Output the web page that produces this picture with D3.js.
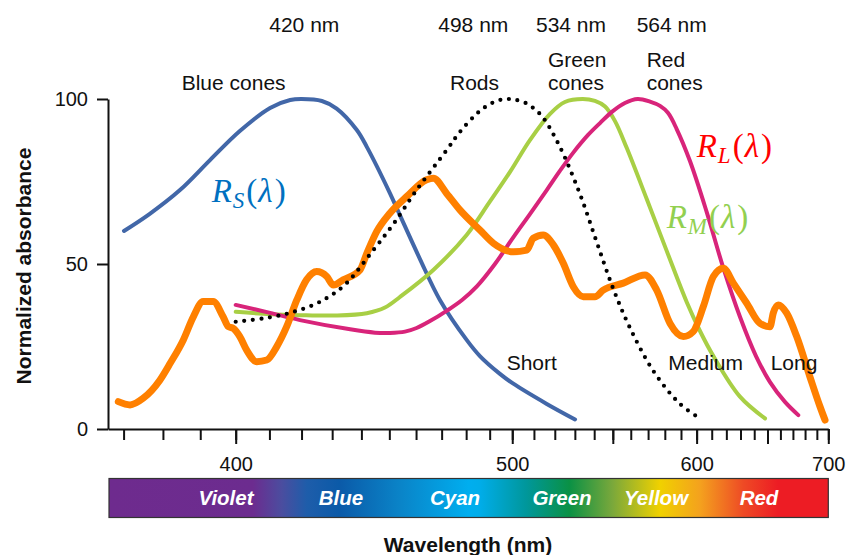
<!DOCTYPE html>
<html>
<head>
<meta charset="utf-8">
<script src="https://cdn.jsdelivr.net/npm/d3@7/dist/d3.min.js"></script>
<style>
  html, body { margin: 0; padding: 0; background: #fff; }
  svg { display: block; }
</style>
</head>
<body>
<svg id="chart" width="848" height="555"></svg>
<script>
// ---- data: wavelength (nm) and normalized absorbance (%) ----
const sConeWl  = [370.1, 376.6, 384.5, 392.7, 401.2, 410.2, 416.4, 420, 426.6, 431.5, 438.4, 441.9, 450.2, 453.9, 461.5, 469.3, 480.2, 485.8, 494.5, 500.3, 516.1, 530.1];
const sConeAbs = [60, 65.2, 72.4, 81.5, 90.3, 97.3, 99.7, 100, 99.4, 97.1, 90.6, 85.5, 71.5, 64.8, 51.5, 39.1, 27.0, 22.1, 16.7, 13.8, 7.6, 2.9];

const rodWl  = [400, 408.1, 416.4, 423.8, 429.3, 434.9, 444.2, 451.5, 460.2, 472.0, 477.4, 484.4, 489.7, 494.5, 498, 501.3, 505.8, 510.0, 514.3, 522.5, 532.6, 541.3, 550.3, 559.6, 573.1, 589.4, 603.3];
const rodAbs = [32.5, 33.5, 35.2, 37.6, 40.3, 44.2, 54.2, 62.1, 72.4, 84.5, 90.0, 95.5, 98.3, 99.7, 100, 99.8, 98.9, 97.1, 94.4, 85.5, 71.2, 56.7, 42.4, 30.6, 17.6, 7.6, 2.9];

const mConeWl  = [400, 410.2, 419.5, 430.9, 441.9, 448.4, 453.9, 466.7, 480.2, 489.7, 499.0, 508.2, 517.7, 525.0, 534, 540.4, 545.8, 551.2, 557.7, 569.2, 581.2, 593.6, 602.2, 611.1, 629.6, 648.1];
const mConeAbs = [35.5, 34.8, 34.5, 34.4, 35.1, 36.8, 40.0, 48.2, 58.8, 68.5, 77.9, 87.6, 95.5, 99.1, 100, 99.4, 97.7, 93.3, 85.2, 69.7, 53.9, 38.5, 29.7, 22.1, 9.8, 3.2];

const lConeWl  = [400, 410.2, 419.5, 436.1, 444.8, 450.2, 455.8, 460.2, 465.4, 472.0, 478.3, 484.6, 492.3, 500.3, 508.2, 516.1, 522.5, 529.0, 536.8, 543.1, 549.5, 556.7, 564, 571.1, 577.1, 581.9, 587.3, 595.7, 606.6, 617.9, 629.6, 641.3, 651.9, 663.6, 674.4];
const lConeAbs = [37.6, 35.2, 33.0, 30.2, 29.2, 29.1, 29.5, 30.6, 32.7, 35.8, 39.1, 43.3, 50.0, 57.9, 65.2, 72.4, 78.2, 83.6, 89.1, 92.7, 96.1, 98.8, 100, 99.2, 97.9, 95.8, 90.9, 81.2, 65.8, 48.8, 34.0, 22.1, 14.2, 8.2, 4.2];

const sourceWl  = [368.7, 371.6, 374.9, 379.2, 381.9, 385.4, 388.1, 390.8, 393.6, 396.4, 397.9, 399.3, 401.2, 403.2, 406.2, 409.2, 412.2, 415.3, 418.5, 421.6, 424.9, 428.2, 430.4, 433.7, 439.5, 441.9, 445.4, 450.2, 456.4, 464.1, 466.7, 472.0, 477.4, 485.8, 491.6, 500.5, 506.6, 509.7, 514.4, 519.3, 524.2, 529.2, 534.3, 540.4, 544.8, 555.8, 568.2, 575.1, 583.2, 591.5, 597.8, 604.4, 611.1, 617.9, 624.9, 634.5, 644.3, 651.9, 654.4, 658.3, 665.0, 673.1, 684.1, 692.7, 697.1];
const sourceVal = [8.3, 7.3, 9.3, 14.8, 19.9, 27.0, 34.0, 38.6, 38.6, 34.0, 31.0, 30.5, 28.0, 23.9, 20.4, 20.9, 24.9, 31.0, 39.1, 45.2, 47.7, 46.2, 43.6, 45.2, 48.2, 53.2, 59.8, 65.4, 70.4, 75.5, 76.0, 71.4, 66.4, 60.3, 56.3, 53.7, 54.2, 57.8, 58.8, 55.8, 50.2, 43.1, 40.1, 40.1, 42.1, 44.2, 46.7, 42.1, 32.0, 28.0, 29.5, 37.1, 46.2, 48.7, 44.2, 38.1, 32.0, 31.0, 35.1, 37.6, 35.1, 28.0, 15.8, 6.8, 2.7];

const peakLabels   = ["420 nm", "498 nm", "534 nm", "564 nm"];
const yTicks       = [0, 50, 100];
const xMinorTicks  = d3.range(370, 701, 10);
const xMajorTicks  = [400, 500, 550, 600, 650, 700];
const xLabelTicks  = [400, 500, 600, 700];
const bandNames    = ["Violet", "Blue", "Cyan", "Green", "Yellow", "Red"];

// ---- layout ----
const svg = d3.select("#chart");
const FONT = "'Liberation Sans', Arial, Helvetica, sans-serif";
const SERIF = "'Liberation Serif', 'Times New Roman', serif";

const plotLeft = 108, plotRight = 828.3, plotTop = 99, plotBottom = 429;

// wavenumber-linear wavelength axis (equal steps in 1/λ)
const inv = d3.scaleLinear().domain([1 / 400, 1 / 700]).range([235.7, plotRight]);
const x = l => inv(1 / l);
x.copy = () => x;
x.range = () => [plotLeft, plotRight];
x.domain = () => [366, 700];

const y = d3.scaleLinear().domain([0, 100]).range([plotBottom, plotTop]);

// ---- axes ----
const yAxis = svg.append("g")
  .attr("transform", `translate(${plotLeft},0)`)
  .call(d3.axisLeft(y).tickValues(yTicks).tickSize(11).tickSizeOuter(0).tickPadding(9));
yAxis.attr("font-family", FONT).attr("font-size", 20);
yAxis.selectAll("path, line").attr("stroke", "#111").attr("stroke-width", 2);
yAxis.selectAll("text").attr("fill", "#111");

const xMinor = svg.append("g")
  .attr("transform", `translate(0,${plotBottom})`)
  .call(d3.axisBottom(x).tickValues(xMinorTicks).tickSize(11).tickSizeOuter(0).tickFormat(""));
xMinor.selectAll("path, line").attr("stroke", "#111").attr("stroke-width", 2);

const xMajor = svg.append("g")
  .attr("transform", `translate(0,${plotBottom})`)
  .call(d3.axisBottom(x).tickValues(xMajorTicks).tickSize(15).tickSizeOuter(0).tickPadding(13)
    .tickFormat(d => xLabelTicks.includes(d) ? d : ""));
xMajor.attr("font-family", FONT).attr("font-size", 20);
xMajor.select(".domain").remove();
xMajor.selectAll("line").attr("stroke", "#111").attr("stroke-width", 2);
xMajor.selectAll("text").attr("fill", "#111");

// axis titles
svg.append("text")
  .attr("transform", "translate(31,266) rotate(-90)")
  .attr("text-anchor", "middle")
  .attr("font-family", FONT).attr("font-size", 21).attr("font-weight", "bold")
  .attr("fill", "#111")
  .text("Normalized absorbance");

svg.append("text")
  .attr("x", 468).attr("y", 552)
  .attr("text-anchor", "middle")
  .attr("font-family", FONT).attr("font-size", 21).attr("font-weight", "bold")
  .attr("fill", "#111")
  .text("Wavelength (nm)");

// ---- spectrum bar ----
const defs = svg.append("defs");
const grad = defs.append("linearGradient").attr("id", "spectrum")
  .attr("x1", "0%").attr("x2", "100%").attr("y1", "0%").attr("y2", "0%");
[
  [0.00, "#6E2B8E"], [0.20, "#6C2C8F"], [0.24, "#4B4D9F"], [0.275, "#1E5DAA"],
  [0.32, "#0B5AA8"], [0.405, "#0A84C8"], [0.50, "#00AEEF"], [0.515, "#00ADEA"],
  [0.58, "#00979B"], [0.64, "#0A9145"], [0.70, "#7AA83B"], [0.766, "#F0D100"],
  [0.822, "#F4A11E"], [0.882, "#EE4A25"], [0.93, "#ED1C24"], [1.00, "#ED1C24"]
].forEach(([o, c]) => grad.append("stop").attr("offset", o).attr("stop-color", c));

svg.append("rect")
  .attr("x", plotLeft + 1).attr("y", 478.5)
  .attr("width", plotRight - plotLeft - 1).attr("height", 39)
  .attr("fill", "url(#spectrum)")
  .attr("stroke", "#333").attr("stroke-width", 1.2);

const bandX = [226, 341, 455, 562, 656, 759];
svg.append("g").selectAll("text").data(bandNames).join("text")
  .attr("x", (d, i) => bandX[i]).attr("y", 504.5)
  .attr("text-anchor", "middle")
  .attr("font-family", FONT).attr("font-size", 20.5)
  .attr("font-weight", "bold").attr("font-style", "italic")
  .attr("fill", "#fff")
  .text(d => d);

// ---- curves ----
const pts = (wl, v) => wl.map((w, i) => [w, v[i]]);
const smooth = d3.line().x(d => x(d[0])).y(d => y(d[1])).curve(d3.curveCatmullRom.alpha(0.5));
const traced = d3.line().x(d => x(d[0])).y(d => y(d[1])).curve(d3.curveMonotoneX);

const curves = svg.append("g").attr("fill", "none").attr("stroke-linecap", "round").attr("stroke-linejoin", "round");

curves.append("path").attr("d", smooth(pts(sConeWl, sConeAbs)))
  .attr("stroke", "#4267A8").attr("stroke-width", 4);
curves.append("path").attr("d", smooth(pts(mConeWl, mConeAbs)))
  .attr("stroke", "#A8CF45").attr("stroke-width", 4);
curves.append("path").attr("d", smooth(pts(lConeWl, lConeAbs)))
  .attr("stroke", "#D8247A").attr("stroke-width", 4);
curves.append("path").attr("d", traced(pts(sourceWl, sourceVal)))
  .attr("stroke", "#FF8000").attr("stroke-width", 7);
curves.append("path").attr("d", smooth(pts(rodWl, rodAbs)))
  .attr("stroke", "#000").attr("stroke-width", 4.2).attr("stroke-dasharray", "0 8.6");

// ---- annotations ----
const label = (txt, xx, yy, anchor) => svg.append("text")
  .attr("x", xx).attr("y", yy).attr("text-anchor", anchor || "start")
  .attr("font-family", FONT).attr("font-size", 21).attr("fill", "#111").text(txt);

const peakX = [304.3, 473.3, 571, 671.7];
peakLabels.forEach((t, i) => label(t, peakX[i], 31.5, "middle"));

label("Blue cones", 181.7, 90);
label("Rods", 450, 90);
label("Green", 548, 66.5);
label("cones", 548, 90);
label("Red", 646.7, 66.5);
label("cones", 646.7, 90);
label("Short", 506.7, 370);
label("Medium", 668.3, 370);
label("Long", 770.7, 370);

// response-function labels R_S(λ), R_M(λ), R_L(λ)
function response(sub, xx, yy, color) {
  const t = svg.append("text").attr("x", xx).attr("y", yy)
    .attr("font-family", SERIF).attr("font-size", 33).attr("fill", color);
  t.append("tspan").attr("font-style", "italic").text("R");
  t.append("tspan").attr("font-style", "italic").attr("font-size", 23).attr("dx", 1).attr("dy", 6).text(sub);
  t.append("tspan").attr("dx", 2).attr("dy", -6).text("(");
  t.append("tspan").attr("font-style", "italic").attr("dx", 1).text("λ");
  t.append("tspan").attr("dx", 2).text(")");
}
response("S", 211.7, 201.7, "#0070C0");
response("L", 696.7, 156.7, "#FF0000");
response("M", 666.7, 228.3, "#92D050");
</script>
</body>
</html>
